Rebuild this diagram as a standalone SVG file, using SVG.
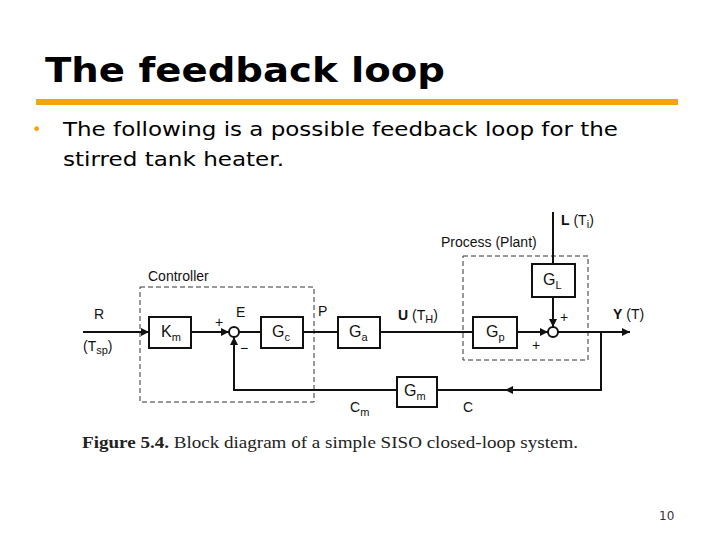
<svg xmlns="http://www.w3.org/2000/svg" width="720" height="540" viewBox="0 0 720 540">
<defs>
<style>
.t{font-family:"DejaVu Sans",Verdana,sans-serif;fill:#000}
.d{font-family:"Liberation Sans",Arial,sans-serif;font-size:14px;fill:#111}
.g{font-size:16px}
.sub{font-size:11px}
.box{fill:#fff;stroke:#111;stroke-width:2}
.ln{fill:none;stroke:#111;stroke-width:2}
.dash{fill:none;stroke:#333;stroke-width:1;stroke-dasharray:5,3}
</style>
<marker id="b" viewBox="0 0 10 10" refX="10" refY="5" markerWidth="16" markerHeight="8" orient="auto" markerUnits="userSpaceOnUse"><path d="M0,0L10,5L0,10z" fill="#111"/></marker>
</defs>
<rect width="720" height="540" fill="#fff"/>
<text class="t" x="45" y="82" font-size="34" font-weight="bold" textLength="400" lengthAdjust="spacingAndGlyphs">The feedback loop</text>
<rect x="36" y="99" width="642" height="6" fill="#f6a30f"/>
<text x="32" y="135" font-family="DejaVu Sans,sans-serif" font-size="16" fill="#f6a30f">•</text>
<text class="t" x="63" y="136" font-size="20" textLength="555" lengthAdjust="spacingAndGlyphs">The following is a possible feedback loop for the</text>
<text class="t" x="63" y="166" font-size="20" textLength="221" lengthAdjust="spacingAndGlyphs">stirred tank heater.</text>

<g id="frames">
<rect class="dash" x="140" y="287" width="174" height="115"/>
<text class="d" x="148" y="281">Controller</text>
<rect class="dash" x="463" y="256" width="125" height="104"/>
<text class="d" x="441" y="247">Process (Plant)</text>
</g>
<g id="connectors">
<path class="ln" d="M83,332H149" marker-end="url(#b)"/>
<path class="ln" d="M191,332H229" marker-end="url(#b)"/>
<path class="ln" d="M239,332H261"/>
<path class="ln" d="M303,332H338"/>
<path class="ln" d="M380,332H473"/>
<path class="ln" d="M517,332H548" marker-end="url(#b)"/>
<path class="ln" d="M553,212V264"/>
<path class="ln" d="M553,297V327" marker-end="url(#b)"/>
<path class="ln" d="M558,332H630" marker-end="url(#b)"/>
<path class="ln" d="M601,332V390H437"/>
<path class="ln" d="M520,390H505" marker-end="url(#b)"/>
<path class="ln" d="M397,390H234V337" marker-end="url(#b)"/>
</g>
<g id="sum1"><circle cx="234" cy="332" r="5" fill="#fff" stroke="#111" stroke-width="2"/></g>
<g id="sum2"><circle cx="553" cy="332" r="5" fill="#fff" stroke="#111" stroke-width="2"/></g>
<g id="Km"><rect class="box" x="149" y="317" width="42" height="31"/><text class="d g" x="161" y="337">K<tspan class="sub" dy="4">m</tspan></text></g>
<g id="Gc"><rect class="box" x="261" y="317" width="42" height="31"/><text class="d g" x="272" y="337">G<tspan class="sub" dy="4">c</tspan></text></g>
<g id="Ga"><rect class="box" x="338" y="317" width="42" height="31"/><text class="d g" x="349" y="337">G<tspan class="sub" dy="4">a</tspan></text></g>
<g id="Gp"><rect class="box" x="473" y="317" width="44" height="31"/><text class="d g" x="486" y="337">G<tspan class="sub" dy="4">p</tspan></text></g>
<g id="GL"><rect class="box" x="532" y="264" width="43" height="33"/><text class="d g" x="543" y="285">G<tspan class="sub" dy="4">L</tspan></text></g>
<g id="Gm"><rect class="box" x="397" y="377" width="40" height="30"/><text class="d g" x="404" y="396">G<tspan class="sub" dy="4">m</tspan></text></g>
<g id="labels">
<text class="d" x="94" y="319">R</text>
<text class="d" x="83" y="351">(T<tspan class="sub" dy="3">sp</tspan><tspan dy="-3">)</tspan></text>
<text class="d" x="215" y="327">+</text>
<text class="d" x="236" y="317">E</text>
<text class="d" x="240" y="353">−</text>
<text class="d" x="318" y="316">P</text>
<text class="d" x="398" y="320"><tspan font-weight="bold">U</tspan> (T<tspan class="sub" dy="3">H</tspan><tspan dy="-3">)</tspan></text>
<text class="d" x="561" y="225"><tspan font-weight="bold">L</tspan> (T<tspan class="sub" dy="3">i</tspan><tspan dy="-3">)</tspan></text>
<text class="d" x="560" y="322">+</text>
<text class="d" x="532" y="350">+</text>
<text class="d" x="613" y="319"><tspan font-weight="bold">Y</tspan> (T)</text>
<text class="d" x="350" y="412">C<tspan class="sub" dy="4">m</tspan></text>
<text class="d" x="463" y="412">C</text>
</g>
<text x="82" y="448" font-family="Liberation Serif,serif" font-size="17" fill="#222" textLength="496" lengthAdjust="spacingAndGlyphs"><tspan font-weight="bold">Figure 5.4.</tspan>  Block diagram of a simple SISO closed-loop system.</text>
<text class="t" x="659" y="520" font-size="12" style="fill:#333">10</text>
</svg>
